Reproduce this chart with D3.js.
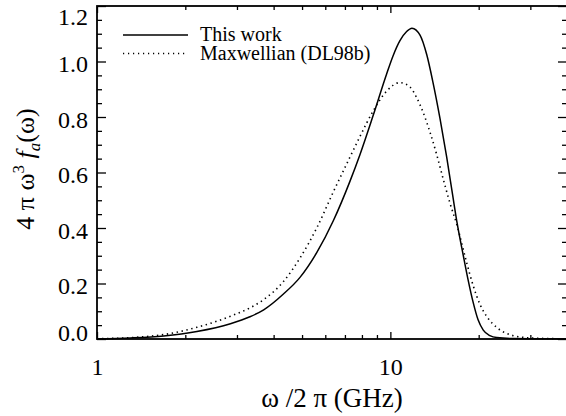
<!DOCTYPE html>
<html>
<head>
<meta charset="utf-8">
<script src="https://cdn.jsdelivr.net/npm/d3@7"></script>
<style>
  body { margin: 0; background: #fff; }
</style>
</head>
<body>
<div id="chart"></div>
<script>
// Data
const workFreq = [1.0, 1.30, 1.69, 2.19, 2.85, 3.32, 3.70, 4.32, 4.92, 5.61, 6.39, 7.28, 7.88, 8.74, 9.71, 10.21, 10.78, 11.36, 11.85, 12.62, 13.30, 13.97, 14.76, 15.56, 16.35, 16.87, 17.73, 18.39, 19.17, 19.89, 20.73, 21.85, 23.03, 26.2, 32.0, 40.0]
const workVal  = [0.001, 0.004, 0.011, 0.027, 0.055, 0.080, 0.105, 0.162, 0.222, 0.311, 0.426, 0.568, 0.665, 0.806, 0.955, 1.020, 1.075, 1.108, 1.120, 1.095, 1.025, 0.925, 0.795, 0.655, 0.510, 0.420, 0.300, 0.215, 0.130, 0.070, 0.032, 0.012, 0.005, 0.0015, 0.001, 0.0005]

const maxwFreq = [1.0, 1.30, 1.69, 2.19, 2.85, 3.32, 3.70, 4.32, 4.92, 5.61, 6.39, 7.28, 7.88, 8.74, 9.71, 10.78, 11.66, 12.29, 12.95, 13.65, 14.38, 15.11, 15.96, 16.87, 18.20, 19.12, 20.20, 21.51, 23.03, 26.24, 29.91, 36.88, 40.0]
const maxwVal  = [0.001, 0.005, 0.016, 0.042, 0.082, 0.112, 0.142, 0.207, 0.292, 0.400, 0.530, 0.655, 0.730, 0.822, 0.893, 0.924, 0.908, 0.870, 0.815, 0.745, 0.665, 0.580, 0.490, 0.410, 0.275, 0.195, 0.125, 0.075, 0.042, 0.012, 0.004, 0.001, 0.0005]

const seriesNames = ['This work', 'Maxwellian (DL98b)']

const xMajor = [1, 10]
const xMinor = [2, 3, 4, 5, 6, 7, 8, 9, 20, 30]
const yMajor = [0, 0.2, 0.4, 0.6, 0.8, 1.0, 1.2]
const yMinor = [0.05, 0.1, 0.15, 0.25, 0.3, 0.35, 0.45, 0.5, 0.55, 0.65, 0.7, 0.75, 0.85, 0.9, 0.95, 1.05, 1.1, 1.15]

const font = "'Liberation Serif', 'Times New Roman', serif"

// Dimensions
let dimensions = {
  width: 566,
  height: 416,
  margin: { top: 6, right: -1, bottom: 77, left: 97 }
}
dimensions.ctrWidth = dimensions.width - dimensions.margin.left - dimensions.margin.right
dimensions.ctrHeight = dimensions.height - dimensions.margin.top - dimensions.margin.bottom

const svg = d3.select('#chart')
  .append('svg')
    .attr('width', dimensions.width)
    .attr('height', dimensions.height)
    .attr('font-family', font)
    .style('display', 'block')

const ctr = svg.append('g')
  .attr('transform', `translate(${dimensions.margin.left}, ${dimensions.margin.top})`)

// Scales
const xScale = d3.scaleLog()
  .domain([1, 40])
  .range([0, dimensions.ctrWidth])

const yScale = d3.scaleLinear()
  .domain([0, 1.2])
  .range([dimensions.ctrHeight, 0])

// Curves
const line = d3.line()
  .x(d => xScale(d[0]))
  .y(d => yScale(d[1]))
  .curve(d3.curveMonotoneX)

const workData = workFreq.map((f, i) => [f, workVal[i]])
const maxwData = maxwFreq.map((f, i) => [f, maxwVal[i]])

ctr.append('path')
  .datum(maxwData)
  .attr('d', line)
  .attr('fill', 'none')
  .attr('stroke', '#000')
  .attr('stroke-width', 1.6)
  .attr('stroke-dasharray', '1.4,3.6')

ctr.append('path')
  .datum(workData)
  .attr('d', line)
  .attr('fill', 'none')
  .attr('stroke', '#000')
  .attr('stroke-width', 1.5)

// Axes - ticks point inward on all four sides
function styleAxis(g) {
  g.attr('font-family', font).attr('font-size', 24)
  g.select('.domain').remove()
  g.selectAll('.tick line').attr('stroke', '#000').attr('stroke-width', 1.3)
  g.selectAll('text').attr('fill', '#000')
}

const xAxis = d3.axisBottom(xScale)
  .tickValues(xMajor)
  .tickSize(-7)
  .tickPadding(19)
  .tickFormat(d3.format('d'))
ctr.append('g')
  .attr('transform', `translate(0, ${dimensions.ctrHeight})`)
  .call(xAxis)
  .call(styleAxis)

ctr.append('g')
  .attr('transform', `translate(0, ${dimensions.ctrHeight})`)
  .call(d3.axisBottom(xScale).tickValues(xMinor).tickSize(-4).tickFormat(''))
  .call(styleAxis)

ctr.append('g')
  .call(d3.axisTop(xScale).tickValues(xMajor).tickSize(-7).tickFormat(''))
  .call(styleAxis)
ctr.append('g')
  .call(d3.axisTop(xScale).tickValues(xMinor).tickSize(-4).tickFormat(''))
  .call(styleAxis)

const yAxisG = ctr.append('g')
  .call(d3.axisLeft(yScale).tickValues(yMajor).tickSize(-9).tickPadding(9).tickFormat(d3.format('.1f')))
  .call(styleAxis)
yAxisG.selectAll('text').attr('dy', '0.42em')
// end labels sit inside the frame, as in the original
yAxisG.selectAll('.tick').filter(d => d === 1.2).select('text').attr('y', 8)
yAxisG.selectAll('.tick').filter(d => d === 0).select('text').attr('y', -9)

ctr.append('g')
  .call(d3.axisLeft(yScale).tickValues(yMinor).tickSize(-5).tickFormat(''))
  .call(styleAxis)

ctr.append('g')
  .attr('transform', `translate(${dimensions.ctrWidth}, 0)`)
  .call(d3.axisRight(yScale).tickValues(yMajor).tickSize(-9).tickFormat(''))
  .call(styleAxis)
ctr.append('g')
  .attr('transform', `translate(${dimensions.ctrWidth}, 0)`)
  .call(d3.axisRight(yScale).tickValues(yMinor).tickSize(-5).tickFormat(''))
  .call(styleAxis)

// frame
ctr.append('rect')
  .attr('width', dimensions.ctrWidth)
  .attr('height', dimensions.ctrHeight)
  .attr('fill', 'none')
  .attr('stroke', '#000')
  .attr('stroke-width', 1.8)

// Legend
const legend = ctr.append('g')
  .attr('transform', 'translate(26, 29)')

legend.selectAll('line')
  .data(seriesNames)
  .join('line')
  .attr('x1', 0)
  .attr('x2', 65)
  .attr('y1', (d, i) => i * 18.5)
  .attr('y2', (d, i) => i * 18.5)
  .attr('stroke', '#000')
  .attr('stroke-width', (d, i) => i === 0 ? 1.3 : 1.4)
  .attr('stroke-dasharray', (d, i) => i === 0 ? null : '1.2,3.8')

legend.selectAll('text')
  .data(seriesNames)
  .join('text')
  .attr('x', 77)
  .attr('y', (d, i) => i * 18.5 + 6)
  .attr('font-size', 20)
  .text(d => d)

// Axis titles
svg.append('text')
  .attr('x', 332)
  .attr('y', 407)
  .attr('text-anchor', 'middle')
  .attr('font-size', 27)
  .text('ω /2 π (GHz)')

const yTitle = svg.append('text')
  .attr('transform', 'translate(34, 169) rotate(-90)')
  .attr('text-anchor', 'middle')
  .attr('font-size', 26)

yTitle.append('tspan').text('4 π ω')
yTitle.append('tspan').attr('dy', -10).attr('font-size', 17).text('3')
yTitle.append('tspan').attr('dy', 10).text(' ')
yTitle.append('tspan').attr('font-style', 'italic').text('f')
yTitle.append('tspan').attr('dy', 6).attr('font-size', 17).attr('font-style', 'italic').text('a')
yTitle.append('tspan').attr('dy', -6).text('(ω)')
</script>
</body>
</html>
